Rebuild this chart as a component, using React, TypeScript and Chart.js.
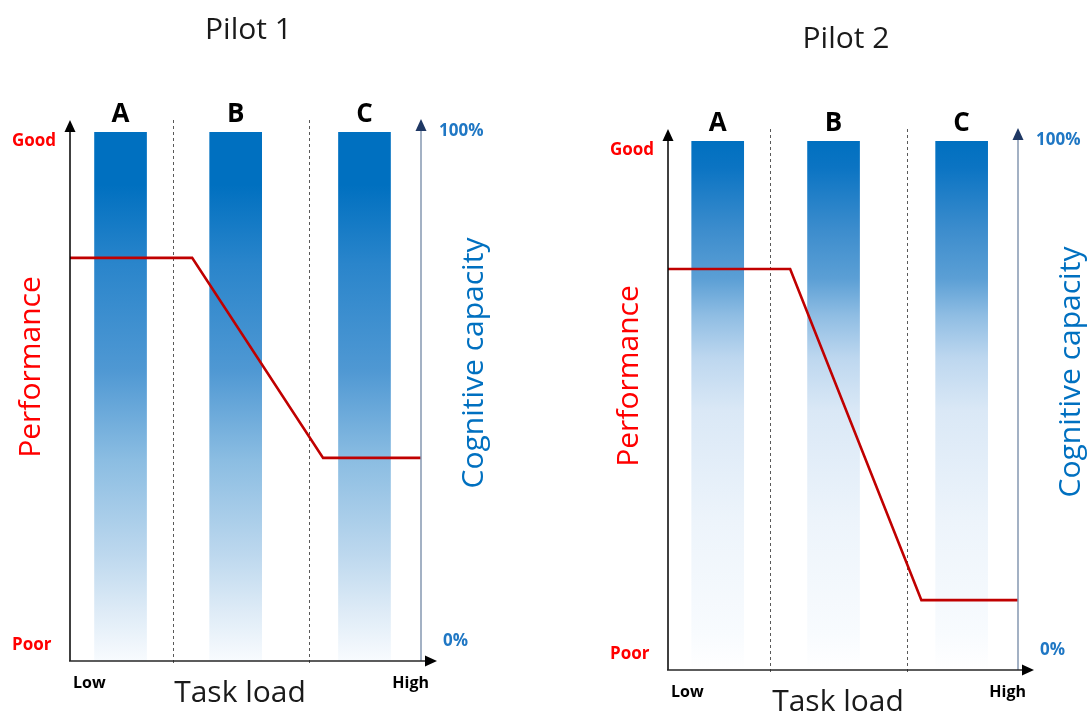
import React, { useEffect, useRef } from "react";
import { Chart, registerables } from "chart.js";

Chart.register(...registerables);

// ---- data ----
const barLabels = ["A", "B", "C"];
const pilot1BarCenters = [14.4, 47.2, 83.9];
const pilot2BarCenters = [14.2, 47.3, 83.9];
const pilot1Capacity = [100, 100, 100];
const pilot2Capacity = [100, 100, 100];
const pilot1LoadX = [0, 34.8, 72.1, 100];
const pilot1Performance = [76.2, 76.2, 38.4, 38.4];
const pilot2LoadX = [0, 34.9, 72.4, 100];
const pilot2Performance = [75.8, 75.8, 13.2, 13.2];
const pilot1Dividers = [29.3, 68.1];
const pilot2Dividers = [29.1, 68.3];
const performanceTicks = ["Poor", "Good"];
const capacityTicks = ["0%", "100%"];
const loadTicks = ["Low", "High"];

const FONT = "'Open Sans', 'Noto Sans', sans-serif";

type Stop = [number, string];
type PanelCfg = {
  title: string;
  left: number;
  top: number;
  width: number;
  height: number;
  padding: { left: number; right: number; top: number; bottom: number };
  barCenters: number[];
  capacity: number[];
  loadX: number[];
  perf: number[];
  dividers: number[];
  stops: Stop[];
};

const stops1: Stop[] = [
  [0, "#0070C0"],
  [0.1, "#0070C0"],
  [0.25, "#2A85CB"],
  [0.45, "#4F98D3"],
  [0.62, "#8BBDE2"],
  [0.8, "#BDD8EE"],
  [0.9, "#DCEAF6"],
  [1, "#F8FBFE"],
];
const stops2: Stop[] = [
  [0, "#0070C0"],
  [0.05, "#0B74C3"],
  [0.17, "#3D8DCD"],
  [0.26, "#5B9FD5"],
  [0.33, "#8FBDE3"],
  [0.41, "#BDD7EF"],
  [0.51, "#DAE8F6"],
  [0.72, "#EDF4FB"],
  [0.93, "#F8FBFE"],
  [1, "#FFFFFF"],
];

const panels: PanelCfg[] = [
  {
    title: "Pilot 1",
    left: 0,
    top: 0,
    width: 598,
    height: 715,
    padding: { left: 70, right: 177, top: 132, bottom: 54 },
    barCenters: pilot1BarCenters,
    capacity: pilot1Capacity,
    loadX: pilot1LoadX,
    perf: pilot1Performance,
    dividers: pilot1Dividers,
    stops: stops1,
  },
  {
    title: "Pilot 2",
    left: 598,
    top: 9,
    width: 491,
    height: 706,
    padding: { left: 70, right: 71, top: 132, bottom: 45 },
    barCenters: pilot2BarCenters,
    capacity: pilot2Capacity,
    loadX: pilot2LoadX,
    perf: pilot2Performance,
    dividers: pilot2Dividers,
    stops: stops2,
  },
];

function arrowUp(ctx: CanvasRenderingContext2D, x: number, tip: number, color: string) {
  ctx.fillStyle = color;
  ctx.beginPath();
  ctx.moveTo(x, tip);
  ctx.lineTo(x - 5.5, tip + 12);
  ctx.lineTo(x + 5.5, tip + 12);
  ctx.closePath();
  ctx.fill();
}
function arrowRight(ctx: CanvasRenderingContext2D, tip: number, y: number, color: string) {
  ctx.fillStyle = color;
  ctx.beginPath();
  ctx.moveTo(tip, y);
  ctx.lineTo(tip - 12, y - 5.5);
  ctx.lineTo(tip - 12, y + 5.5);
  ctx.closePath();
  ctx.fill();
}

function makeOverlay(cfg: PanelCfg) {
  return {
    id: "overlay",
    beforeDatasetsDraw(chart: any) {
      const ctx: CanvasRenderingContext2D = chart.ctx;
      const { top, bottom } = chart.chartArea;
      const xs = chart.scales.x;
      ctx.save();
      ctx.strokeStyle = "#595959";
      ctx.lineWidth = 1;
      ctx.setLineDash([3, 3]);
      cfg.dividers.forEach((d) => {
        const px = Math.round(xs.getPixelForValue(d)) + 0.5;
        ctx.beginPath();
        ctx.moveTo(px, top - 12);
        ctx.lineTo(px, bottom + 3);
        ctx.stroke();
      });
      ctx.restore();
    },
    afterDatasetsDraw(chart: any) {
      const ctx: CanvasRenderingContext2D = chart.ctx;
      const { left: L, right: R, top: T, bottom: B } = chart.chartArea;
      ctx.save();
      // left axis
      ctx.strokeStyle = "#000000";
      ctx.lineWidth = 1.5;
      ctx.beginPath();
      ctx.moveTo(L, B);
      ctx.lineTo(L, T - 1);
      ctx.stroke();
      arrowUp(ctx, L, T - 12, "#000000");
      // right axis
      ctx.strokeStyle = "#8497B0";
      ctx.beginPath();
      ctx.moveTo(R, B);
      ctx.lineTo(R, T - 2);
      ctx.stroke();
      arrowUp(ctx, R, T - 13, "#1F3864");
      // x axis
      ctx.strokeStyle = "#262626";
      ctx.beginPath();
      ctx.moveTo(L - 1, B);
      ctx.lineTo(R + 6, B);
      ctx.stroke();
      arrowRight(ctx, R + 16, B, "#000000");

      // bar letters
      const meta = chart.getDatasetMeta(1);
      ctx.fillStyle = "#000000";
      ctx.font = `bold 26px ${FONT}`;
      ctx.textAlign = "center";
      ctx.textBaseline = "alphabetic";
      meta.data.forEach((el: any, i: number) => {
        ctx.fillText(barLabels[i], el.x, el.y - 10);
      });

      // title
      ctx.font = `30px ${FONT}`;
      ctx.fillStyle = "#1A1A1A";
      ctx.fillText(cfg.title, (L + R) / 2 + 3, T - 93);

      // performance ticks
      ctx.font = `bold 17px ${FONT}`;
      ctx.fillStyle = "#FF0000";
      ctx.textAlign = "left";
      ctx.fillText(performanceTicks[1], L - 58, T + 14);
      ctx.fillText(performanceTicks[0], L - 58, B - 11);

      // capacity ticks
      ctx.font = `bold 17px ${FONT}`;
      ctx.fillStyle = "#1F77C4";
      ctx.fillText(capacityTicks[1], R + 18, T + 4);
      ctx.fillText(capacityTicks[0], R + 22, B - 15);

      // load ticks
      ctx.fillStyle = "#000000";
      ctx.font = `bold 16px ${FONT}`;
      ctx.fillText(loadTicks[0], L + 3, B + 27);
      ctx.textAlign = "right";
      ctx.fillText(loadTicks[1], R + 8, B + 27);

      // x title
      ctx.textAlign = "center";
      ctx.font = `30px ${FONT}`;
      ctx.fillStyle = "#1A1A1A";
      ctx.fillText("Task load", L + 170, B + 41);

      // Performance (rotated)
      ctx.save();
      ctx.translate(L - 30, T + 235);
      ctx.rotate(-Math.PI / 2);
      ctx.fillStyle = "#FF0000";
      ctx.font = `30px ${FONT}`;
      ctx.textAlign = "center";
      ctx.fillText("Performance", 0, 0);
      ctx.restore();

      // Cognitive capacity (rotated)
      ctx.save();
      ctx.translate(R + 62, T + 231);
      ctx.rotate(-Math.PI / 2);
      ctx.fillStyle = "#0070C0";
      ctx.font = `30px ${FONT}`;
      ctx.textAlign = "center";
      ctx.fillText("Cognitive capacity", 0, 0);
      ctx.restore();

      ctx.restore();
    },
  };
}

function Panel({ cfg }: { cfg: PanelCfg }) {
  const ref = useRef<HTMLCanvasElement | null>(null);
  useEffect(() => {
    if (!ref.current) return;
    const stops = cfg.stops;
    const chart = new Chart(ref.current, {
      type: "bar",
      data: {
        datasets: [
          {
            type: "line",
            label: "Performance",
            data: cfg.loadX.map((x, i) => ({ x, y: cfg.perf[i] })),
            borderColor: "#C00000",
            borderWidth: 2.6,
            pointRadius: 0,
            tension: 0,
            fill: false,
            order: 0,
            borderJoinStyle: "miter",
          } as any,
          {
            type: "bar",
            label: "Cognitive capacity",
            data: cfg.barCenters.map((x, i) => ({ x, y: cfg.capacity[i] })),
            barThickness: 52,
            borderWidth: 0,
            order: 1,
            backgroundColor: (c: any) => {
              const ch = c.chart;
              if (!ch.chartArea) return "#0070C0";
              const ys = ch.scales.y;
              const g = ch.ctx.createLinearGradient(0, ys.getPixelForValue(100), 0, ys.getPixelForValue(0));
              stops.forEach(([o, col]) => g.addColorStop(o, col));
              return g;
            },
          } as any,
        ],
      },
      options: {
        animation: false,
        responsive: false,
        maintainAspectRatio: false,
        layout: { padding: cfg.padding },
        scales: {
          x: { type: "linear", min: 0, max: 100, offset: false, display: false },
          y: { type: "linear", min: 0, max: 100, display: false },
        },
        plugins: {
          legend: { display: false },
          tooltip: { enabled: false },
        },
      },
      plugins: [makeOverlay(cfg)],
    } as any);
    return () => chart.destroy();
  }, [cfg]);
  return (
    <canvas
      ref={ref}
      width={cfg.width}
      height={cfg.height}
      style={{
        position: "absolute",
        left: cfg.left,
        top: cfg.top,
        width: cfg.width,
        height: cfg.height,
      }}
    />
  );
}

export default function App() {
  return (
    <div
      style={{
        position: "absolute",
        left: 0,
        top: 0,
        width: 1089,
        height: 715,
        background: "#FFFFFF",
        overflow: "hidden",
      }}
    >
      {panels.map((p) => (
        <Panel key={p.title} cfg={p} />
      ))}
    </div>
  );
}
